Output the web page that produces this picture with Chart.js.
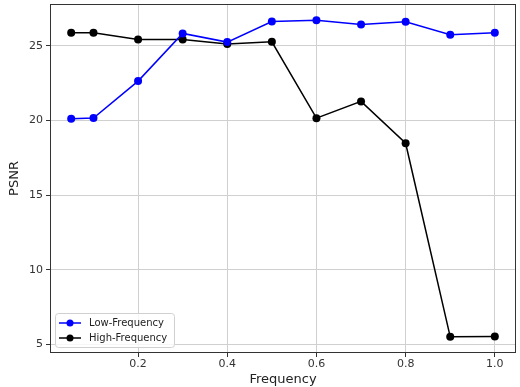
<!DOCTYPE html>
<html>
<head>
<meta charset="utf-8">
<script src="https://cdn.jsdelivr.net/npm/chart.js@4/dist/chart.umd.min.js"></script>
<style>
  html, body { margin: 0; padding: 0; background: #fff; }
  #wrap { width: 520px; height: 387px; position: relative; }
</style>
</head>
<body>
<div id="wrap"><canvas id="c"></canvas></div>
<script>
const frequency = [0.05, 0.1, 0.2, 0.3, 0.4, 0.5, 0.6, 0.7, 0.8, 0.9, 1.0]
const lowFreq  = [20.12, 20.17, 22.64, 25.83, 25.25, 26.63, 26.72, 26.43, 26.61, 25.74, 25.88]
const highFreq = [25.88, 25.88, 25.43, 25.43, 25.12, 25.27, 20.16, 21.28, 18.48, 5.52, 5.54]
const xTicks = [0.2, 0.4, 0.6, 0.8, 1.0]
const yTicks = [5, 10, 15, 20, 25]
const seriesNames = ['Low-Frequency', 'High-Frequency']

const FONT = "'DejaVu Sans', sans-serif"
Chart.defaults.font.family = FONT
Chart.defaults.color = '#333'

const toPts = ys => frequency.map((x, i) => ({ x, y: ys[i] }))

// marco alrededor del área de dibujo + leyenda dentro (abajo a la izquierda)
const framePlugin = {
  id: 'frame',
  afterDatasetsDraw(chart) {
    const { ctx: c, chartArea: a } = chart
    c.save()
    c.strokeStyle = '#333'
    c.lineWidth = 1
    c.strokeRect(a.left + 0.5, a.top + 0.5, a.right - a.left - 1, a.bottom - a.top - 1)

    // leyenda
    const bx = a.left + 5, by = a.bottom - 40, bw = 119, bh = 34
    c.fillStyle = 'rgba(255,255,255,0.8)'
    c.strokeStyle = '#d0d0d0'
    c.beginPath()
    c.roundRect(bx + 0.5, by + 0.5, bw, bh, 3)
    c.fill(); c.stroke()
    c.font = '10px ' + FONT
    c.textBaseline = 'middle'
    chart.data.datasets.forEach((ds, i) => {
      const yy = by + 10 + i * 15
      c.strokeStyle = ds.borderColor
      c.lineWidth = 1.5
      c.beginPath(); c.moveTo(bx + 4, yy); c.lineTo(bx + 26, yy); c.stroke()
      c.fillStyle = ds.pointBackgroundColor
      c.beginPath(); c.arc(bx + 15, yy, 3.5, 0, Math.PI * 2); c.fill()
      c.fillStyle = '#222'
      c.fillText(ds.label, bx + 34, yy)
    })
    c.restore()
  }
}

new Chart(document.getElementById('c'), {
  type: 'line',
  plugins: [framePlugin],
  data: {
    datasets: [
      { label: seriesNames[0], data: toPts(lowFreq), borderColor: '#0000ff', backgroundColor: '#0000ff',
        pointBackgroundColor: '#0000ff', pointBorderWidth: 0, pointRadius: 4, borderWidth: 1.5, tension: 0, clip: false },
      { label: seriesNames[1], data: toPts(highFreq), borderColor: '#000000', backgroundColor: '#000000',
        pointBackgroundColor: '#000000', pointBorderWidth: 0, pointRadius: 4, borderWidth: 1.5, tension: 0, clip: false }
    ]
  },
  options: {
    responsive: true, maintainAspectRatio: false, animation: false,
    layout: { padding: { top: 4, right: 1, left: 7, bottom: 0 } },
    plugins: { legend: { display: false }, tooltip: { enabled: false } },
    scales: {
      x: {
        type: 'linear', min: 0.0025, max: 1.0475,
        afterBuildTicks: s => { s.ticks = xTicks.map(v => ({ value: v })) },
        afterFit: s => { s.height = 34; s.paddingLeft = 0; s.paddingRight = 0 },
        ticks: { font: { size: 11 }, color: '#333', padding: 1, maxRotation: 0,
          callback: v => v.toFixed(1) },
        grid: { color: '#d0d0d0', lineWidth: 1, tickLength: 4, tickColor: '#333', tickWidth: 1 },
        border: { display: false },
        title: { display: true, text: 'Frequency', font: { size: 13 }, color: '#222', padding: { top: 0, bottom: 0 } }
      },
      y: {
        min: 4.44, max: 27.8,
        afterBuildTicks: s => { s.ticks = yTicks.map(v => ({ value: v })) },
        afterFit: s => { s.width = 43; s.paddingTop = 0; s.paddingBottom = 0 },
        ticks: { font: { size: 11 }, color: '#333', padding: 3 },
        grid: { color: '#d0d0d0', lineWidth: 1, tickLength: 4, tickColor: '#333', tickWidth: 1 },
        border: { display: false },
        title: { display: true, text: 'PSNR', font: { size: 13 }, color: '#222', padding: { top: 0, bottom: 2 } }
      }
    }
  }
})
</script>
</body>
</html>
